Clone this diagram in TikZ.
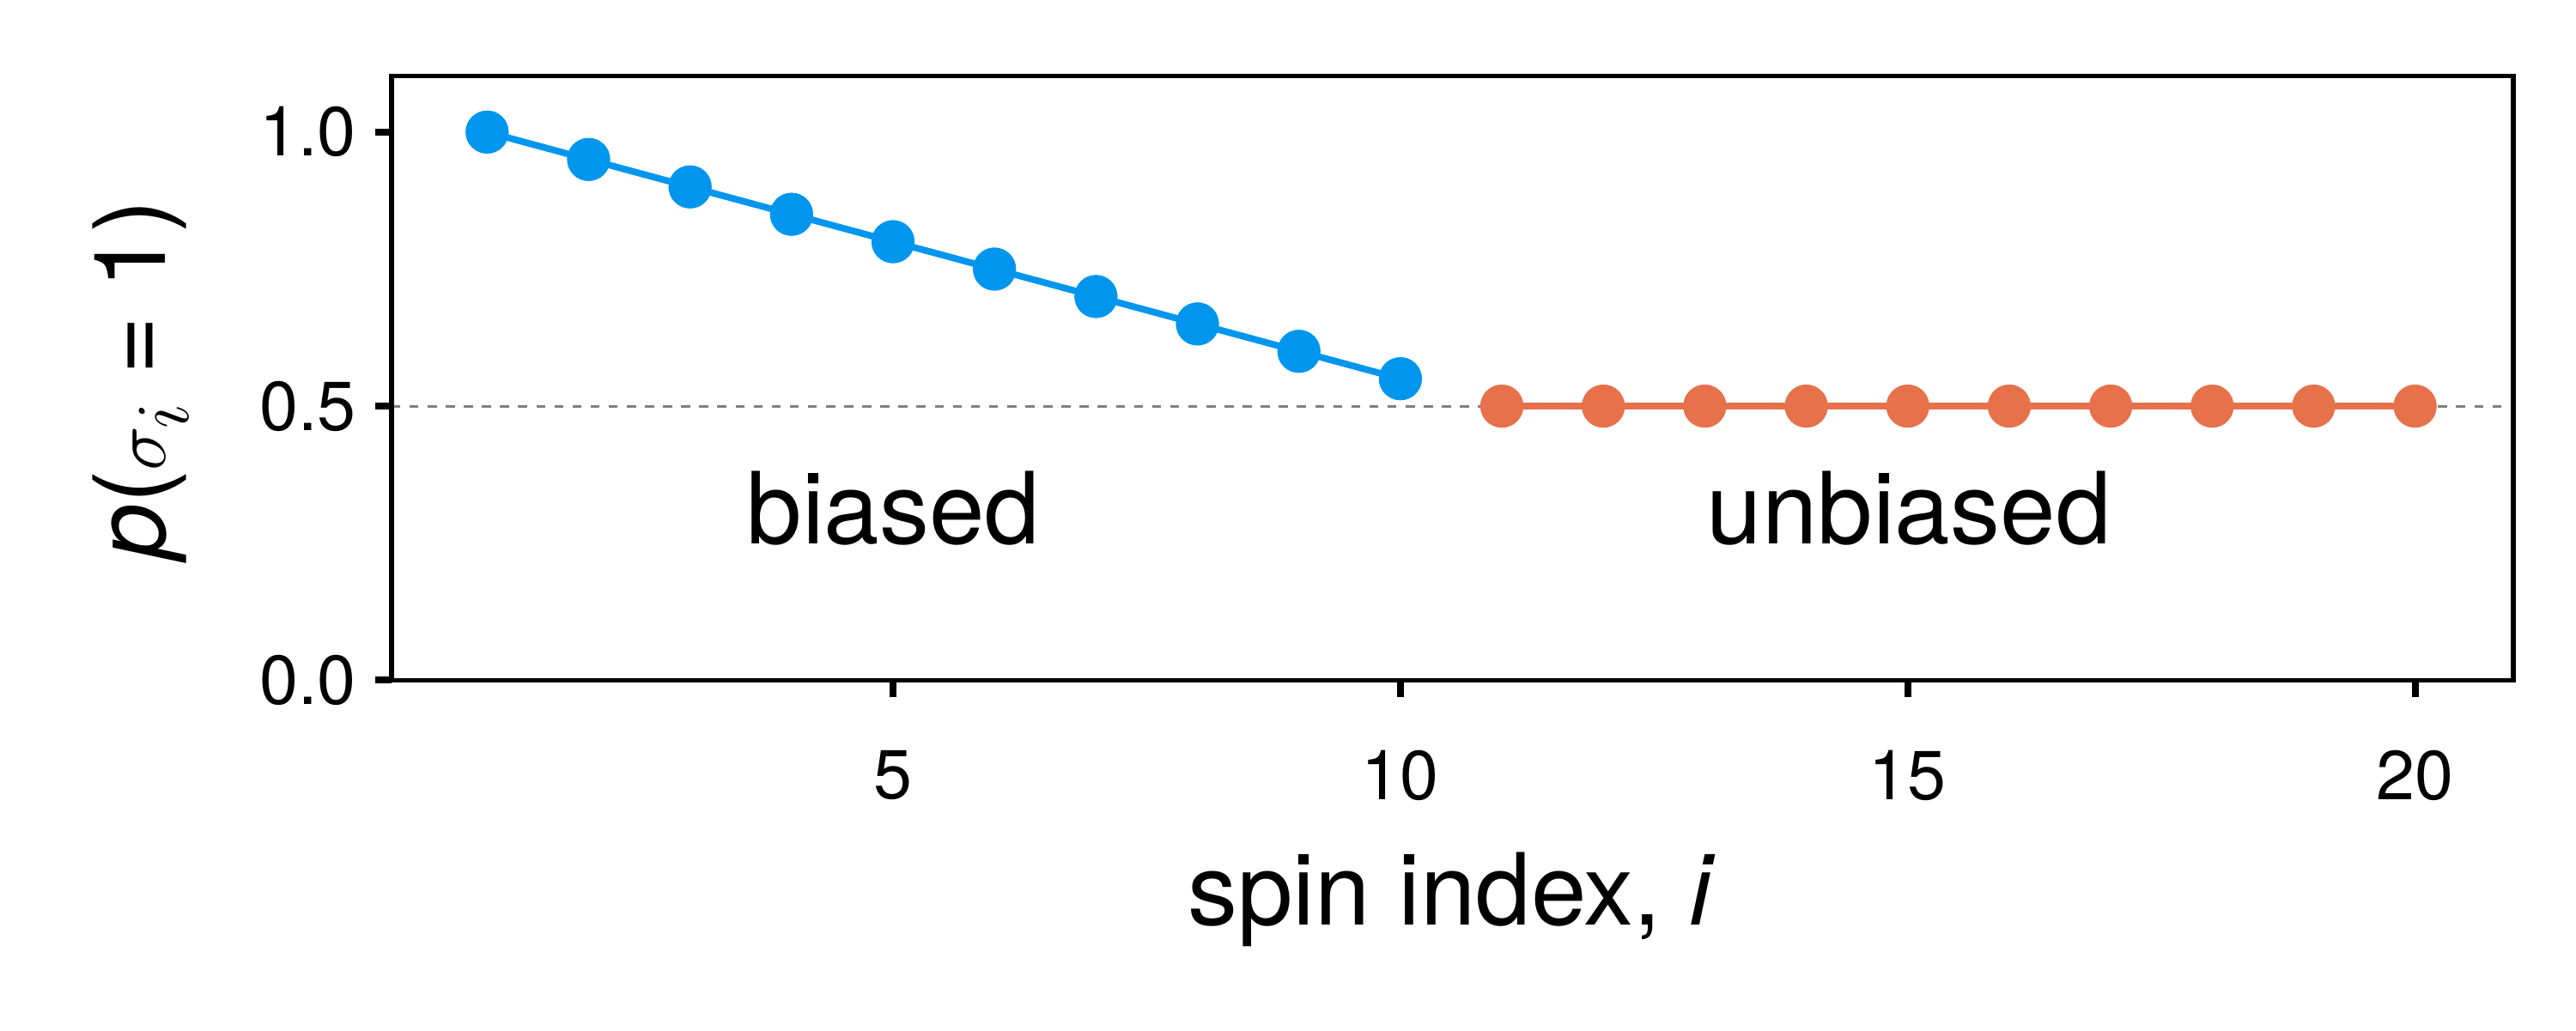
\documentclass[tikz,border=0pt]{standalone}
\usepackage{fontspec}
\setmainfont{TeX Gyre Heros}
\begin{document}
\begin{tikzpicture}[x=0.01923cm,y=-0.01923cm,
  dotb/.style={circle,fill=cb,inner sep=0pt,minimum size=26\pgflinewidth},
  tick/.style={line width=2.2pt},
  ticklab/.style={font=\fontsize{23}{23}\selectfont},
  biglab/.style={font=\fontsize{33}{33}\selectfont}]
\definecolor{cb}{HTML}{0096EE}
\definecolor{co}{HTML}{E6714A}
\useasboundingbox (0,0) rectangle (1560,624);
% dashed line
\draw[gray,dashed,line width=0.9pt] (237,246) -- (1522,246);
% blue
\foreach \i in {1,...,10}{
  \pgfmathsetmacro\xx{295+(\i-1)*61.45}
  \pgfmathsetmacro\yy{412-332*(1-0.05*(\i-1))}
  \node[circle,fill=cb,inner sep=0pt,minimum size=0.5cm] (b\i) at (\xx,\yy) {};
}
\foreach \i [evaluate=\i as \j using int(\i+1)] in {1,...,9}
  \draw[cb,line width=2.2pt] (b\i.center) -- (b\j.center);
\foreach \i in {1,...,10} \node[circle,fill=cb,inner sep=0pt,minimum size=0.5cm] at (b\i) {};
% orange
\foreach \i in {11,...,20}{
  \pgfmathsetmacro\xx{295+(\i-1)*61.45}
  \node[circle,fill=co,inner sep=0pt,minimum size=0.5cm] (u\i) at (\xx,246) {};
}
\draw[co,line width=2.2pt] (u11.center) -- (u20.center);
\foreach \i in {11,...,20} \node[circle,fill=co,inner sep=0pt,minimum size=0.5cm] at (u\i) {};
% axes
\draw[line width=1.6pt] (237,46) rectangle (1522,412);
\foreach \v/\y in {0.0/412,0.5/246,1.0/80}{
  \draw[tick] (237,\y) -- (227,\y);
  \node[ticklab,anchor=east] (yl\y) at (222,\y) {\v};
}
\foreach \v in {5,10,15,20}{
  \pgfmathsetmacro\xx{295+(\v-1)*61.45}
  \draw[tick] (\xx,412) -- (\xx,422);
  \node[ticklab,anchor=north] (xl\v) at (\xx,448) {\v};
}
\node[biglab] (lb) at (541,308) {biased};
\node[biglab] (lu) at (1156,308) {unbiased};
\node[biglab] (xlab) at (879,545) {spin index, \textit{i}};
\node[biglab,rotate=90] (ylab) at (85,230) {\textit{p}($\sigma_i$ = 1)};
\end{tikzpicture}
\end{document}
